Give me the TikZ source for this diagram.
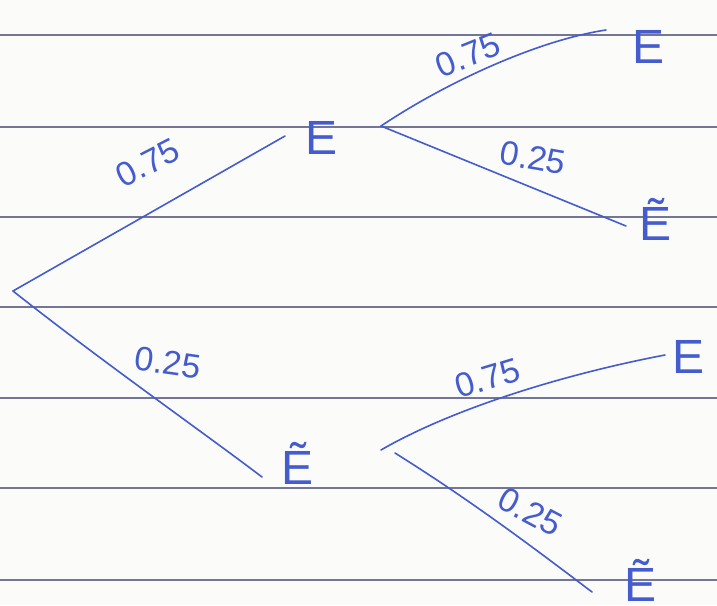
\documentclass[tikz,border=0pt]{standalone}
\usepackage{fontspec}
\setmainfont{Liberation Sans}
\definecolor{ink}{RGB}{68,92,205}
\definecolor{rulecol}{RGB}{115,118,150}
\definecolor{paper}{RGB}{251,251,249}
\begin{document}
\begin{tikzpicture}[x=1pt,y=-1pt,
  branch/.style={draw=ink,line width=1.6pt,line cap=round},
  prob/.style={text=ink,font=\fontsize{34}{34}\selectfont,inner sep=0pt},
  ev/.style={text=ink,font=\fontsize{48}{48}\selectfont,inner sep=0pt,anchor=base},
  ruling/.style={draw=rulecol,line width=1.3pt}]
\fill[paper] (0,0) rectangle (717,605);
\useasboundingbox (0,0) rectangle (717,605);
\foreach \yy in {35,127,217,307,398,488,580}
  \draw[ruling] (0,\yy) -- (717,\yy);

% event nodes
\node[ev] (e1)  at (322,154) {E};
\node[ev] (e2)  at (298,484) {Ẽ};
\node[ev] (e11) at (648,63)  {E};
\node[ev] (e12) at (655,240) {Ẽ};
\node[ev] (e21) at (688,373) {E};
\node[ev] (e22) at (640,601) {Ẽ};

% branch points and line ends
\coordinate (root) at (13,291);
\coordinate (t1) at (285,136);
\coordinate (t2) at (262,477);
\coordinate (b1) at (381,126);
\coordinate (t11) at (606,30);
\coordinate (t12) at (626,226);
\coordinate (b2) at (381,450);
\coordinate (b2l) at (395,453);
\coordinate (t21) at (665,355);
\coordinate (t22) at (592,592);

\draw[branch] (root) -- (t1);
\draw[branch] (root) .. controls (100,360) and (200,430) .. (t2);
\draw[branch] (b1) .. controls (450,80) and (540,40) .. (t11);
\draw[branch] (b1) -- (t12);
\draw[branch] (b2) .. controls (450,410) and (560,375) .. (t21);
\draw[branch] (b2l) .. controls (470,500) and (530,545) .. (t22);

% probabilities
\node[prob,rotate=27] (p1)  at (148,163) {0.75};
\node[prob,rotate=-8] (p2)  at (168,363) {0.25};
\node[prob,rotate=22] (p11) at (468,55)  {0.75};
\node[prob,rotate=-10] (p12) at (533,158) {0.25};
\node[prob,rotate=17] (p21) at (488,378) {0.75};
\node[prob,rotate=-28] (p22) at (530,512) {0.25};
\end{tikzpicture}
\end{document}
